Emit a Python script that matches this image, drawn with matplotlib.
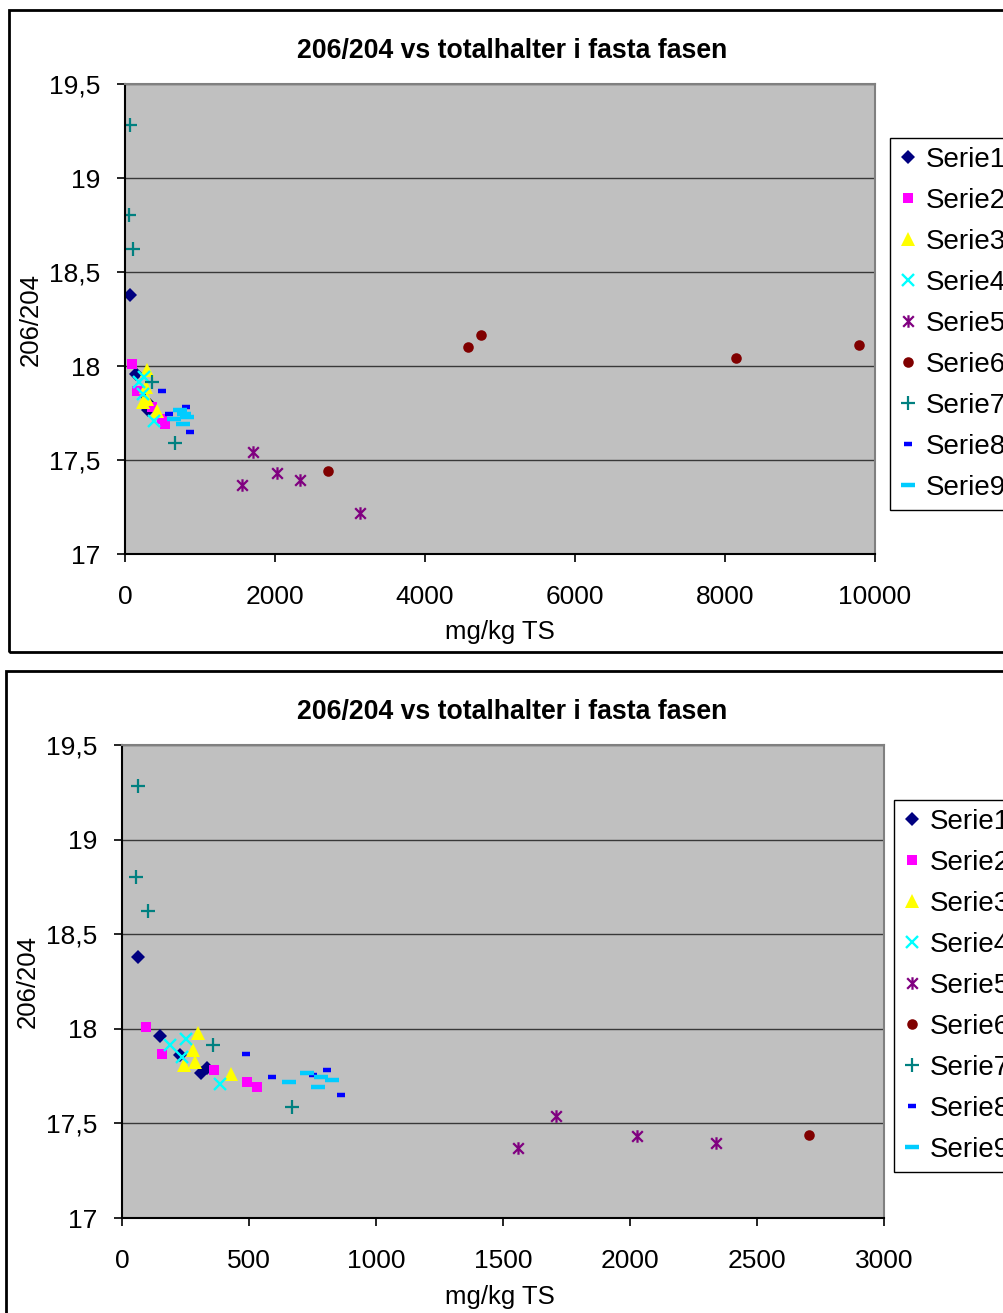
import numpy as np
import matplotlib
matplotlib.use("Agg")
import matplotlib.pyplot as plt
from matplotlib.patches import Rectangle
from matplotlib.path import Path
from matplotlib import ticker

plt.rcParams['font.family'] = ['Liberation Sans', 'DejaVu Sans']

# --- data: totalhalt (mg/kg TS) och kvot 206/204 per serie ---
serie1_x = [62, 150, 228, 333, 310]
serie1_y = [18.378, 17.96, 17.86, 17.794, 17.765]
serie2_x = [93, 159, 362, 491, 531]
serie2_y = [18.011, 17.865, 17.784, 17.72, 17.692]
serie3_x = [298, 278, 287, 244, 428]
serie3_y = [17.98, 17.888, 17.826, 17.81, 17.76]
serie4_x = [189, 252, 235, 386]
serie4_y = [17.914, 17.944, 17.85, 17.708]
serie5_x = [1560, 1709, 2026, 2337, 3133]
serie5_y = [17.368, 17.541, 17.433, 17.395, 17.218]
serie6_x = [2705, 4573, 4747, 8147, 9787]
serie6_y = [17.439, 18.101, 18.165, 18.043, 18.112]
serie7_x = [62, 55, 101, 360, 668]
serie7_y = [19.283, 18.804, 18.623, 17.914, 17.588]
serie8_x = [490, 592, 753, 807, 863]
serie8_y = [17.865, 17.747, 17.756, 17.784, 17.648]
serie9_x = [657, 730, 785, 825, 772]
serie9_y = [17.72, 17.765, 17.747, 17.73, 17.694]

labels = ['Serie1', 'Serie2', 'Serie3', 'Serie4', 'Serie5',
          'Serie6', 'Serie7', 'Serie8', 'Serie9']
xs = [serie1_x, serie2_x, serie3_x, serie4_x, serie5_x,
      serie6_x, serie7_x, serie8_x, serie9_x]
ys = [serie1_y, serie2_y, serie3_y, serie4_y, serie5_y,
      serie6_y, serie7_y, serie8_y, serie9_y]

y_ticks = [17, 17.5, 18, 18.5, 19, 19.5]
x_ticks_top = [0, 2000, 4000, 6000, 8000, 10000]
x_ticks_bottom = [0, 500, 1000, 1500, 2000, 2500, 3000]

# asterisk marker (vertical bar + x)
star = Path([(0, -1), (0, 1), (-0.85, -0.85), (0.85, 0.85), (-0.85, 0.85), (0.85, -0.85)],
            [Path.MOVETO, Path.LINETO] * 3)

styles = [
    dict(marker='D', color='#000080', ms=7.0, mew=0),
    dict(marker='s', color='#FF00FF', ms=7.8, mew=0),
    dict(marker='^', color='#FFFF00', ms=9.5, mew=0),
    dict(marker='x', color='#00FFFF', ms=9.0, mew=1.7),
    dict(marker=star, color='#800080', ms=9.0, mew=1.6),
    dict(marker='o', color='#800000', ms=7.6, mew=0),
    dict(marker='+', color='#008080', ms=10.0, mew=1.6),
    dict(marker='_', color='#0000FF', ms=5.5, mew=3.2),
    dict(marker='_', color='#00CCFF', ms=9.5, mew=3.2),
]

W, H = 1004, 1313
fig = plt.figure(figsize=(W / 100, H / 100), dpi=100)


def fx(px):
    return px / W


def fy(py):
    return 1 - py / H


def comma(v, pos):
    return ('%g' % v).replace('.', ',')


def draw_chart(box, frame, xmax, xticks, title_y, xlabel_y, ylabel_x, legend_xy):
    l, t, r, b = box
    ax = fig.add_axes([fx(l), fy(b), fx(r) - fx(l), fy(t) - fy(b)])
    ax.set_facecolor('#C0C0C0')
    for x, y, lab, st in zip(xs, ys, labels, styles):
        ax.plot(x, y, linestyle='none', label=lab, marker=st['marker'],
                color=st['color'], markersize=st['ms'], markeredgewidth=st['mew'])
    ax.set_xlim(0, xmax)
    ax.set_ylim(17, 19.5)
    ax.set_xticks(xticks)
    ax.set_yticks(y_ticks)
    ax.yaxis.set_major_formatter(ticker.FuncFormatter(comma))
    ax.grid(axis='y', color='#383838', linewidth=1.0)
    ax.set_axisbelow(True)
    ax.tick_params(direction='out', length=6, width=1.2, labelsize=19, pad=12,
                   colors='black')
    ax.tick_params(axis='x', pad=16)
    for side in ['left', 'bottom']:
        ax.spines[side].set_color('black')
        ax.spines[side].set_linewidth(1.5)
    for side in ['top', 'right']:
        ax.spines[side].set_color('#808080')
        ax.spines[side].set_linewidth(1.5)

    fig.text(fx(512), fy(title_y), '206/204 vs totalhalter i fasta fasen',
             ha='center', va='center', fontsize=19.2, fontweight='bold')
    fig.text(fx(500), fy(xlabel_y), 'mg/kg TS', ha='center', va='center', fontsize=18.5)
    fig.text(fx(ylabel_x), fy((t + b) / 2), '206/204', ha='center', va='center',
             rotation=90, fontsize=18.5)

    # legend box runs past the right edge of the chart area
    leg = ax.legend(loc='upper left', bbox_to_anchor=(fx(legend_xy[0]), fy(legend_xy[1])),
                    bbox_transform=fig.transFigure, fontsize=20, frameon=True,
                    fancybox=False, edgecolor='black', framealpha=1, facecolor='white',
                    handlelength=0.65, handletextpad=0.3, labelspacing=0.54,
                    borderpad=0.33, borderaxespad=0, markerscale=1.0)
    leg.get_frame().set_linewidth(1.0)

    fx0, fy0, fx1, fy1 = frame
    fig.add_artist(Rectangle((fx(fx0), fy(fy1)), fx(fx1) - fx(fx0), fy(fy0) - fy(fy1),
                             transform=fig.transFigure, fill=False,
                             edgecolor='black', linewidth=2.0, clip_on=False))
    return ax


draw_chart((125, 84, 875, 554), (9, 10, 1020, 652), 10000, x_ticks_top,
           title_y=51, xlabel_y=632, ylabel_x=31, legend_xy=(890, 138))
draw_chart((122, 745, 884, 1218), (6, 671, 1020, 1330), 3000, x_ticks_bottom,
           title_y=712, xlabel_y=1297, ylabel_x=28, legend_xy=(894, 800))

fig.savefig('out.png', dpi=100)
